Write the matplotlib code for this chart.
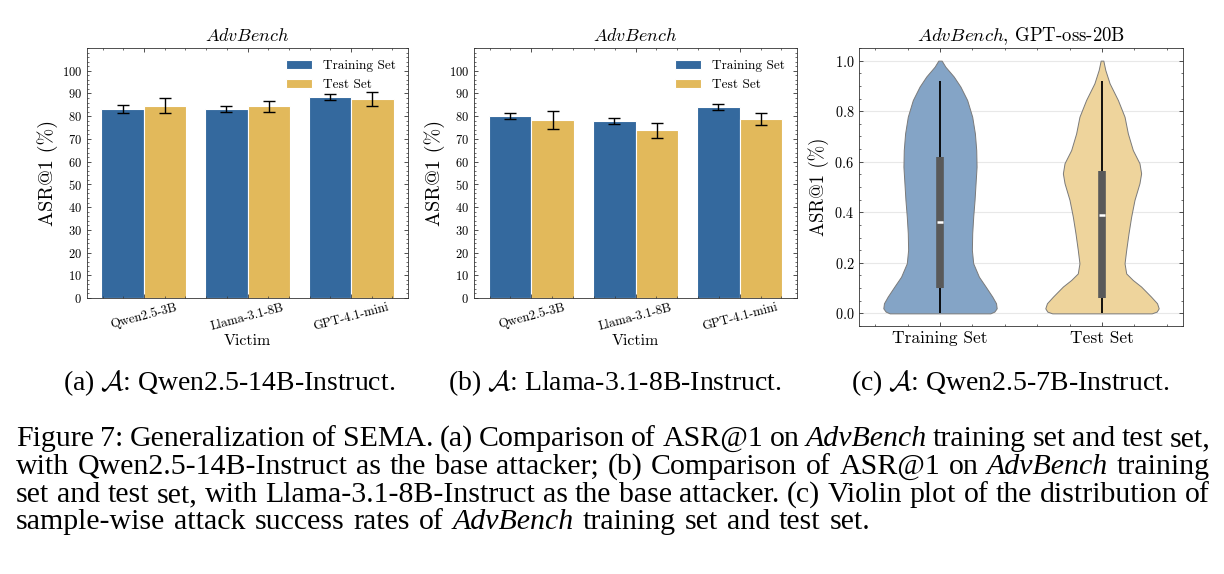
import numpy as np
import matplotlib
matplotlib.use("Agg")
import matplotlib.pyplot as plt
from matplotlib.ticker import MultipleLocator, AutoMinorLocator, FixedLocator

# ---------------- data ----------------
victims = ["Qwen2.5-3B", "Llama-3.1-8B", "GPT-4.1-mini"]
series_names = ["Training Set", "Test Set"]

# (a) attacker Qwen2.5-14B-Instruct
a_train = [83.2, 83.2, 88.3]
a_train_err = [1.8, 1.5, 1.3]
a_test = [84.6, 84.3, 87.7]
a_test_err = [3.3, 2.6, 3.0]

# (b) attacker Llama-3.1-8B-Instruct
b_train = [80.1, 77.9, 84.2]
b_train_err = [1.5, 1.25, 1.3]
b_test = [78.3, 73.9, 78.6]
b_test_err = [3.9, 3.3, 2.6]

bar_yticks = list(range(0, 101, 10))

# (c) violin density profiles (value, relative density)
train_coords = [0.0, 0.007, 0.02, 0.04, 0.066, 0.106, 0.145, 0.198, 0.251, 0.317,
                0.383, 0.449, 0.515, 0.580, 0.646, 0.712, 0.778, 0.844, 0.897,
                0.937, 0.976, 1.0]
train_density = [150, 162, 169, 167, 156, 136, 116, 99, 95, 96,
                 99, 103, 106, 109, 108, 104, 96, 81, 61,
                 41, 16, 5]
test_coords = [0.0, 0.007, 0.02, 0.04, 0.066, 0.106, 0.132, 0.158, 0.198, 0.251,
               0.317, 0.383, 0.449, 0.515, 0.554, 0.594, 0.646, 0.712, 0.778,
               0.844, 0.910, 0.963, 1.0]
test_density = [150, 165, 171, 166, 148, 118, 93, 73, 68, 73,
                80, 88, 98, 113, 118, 113, 93, 78, 68,
                48, 23, 10, 4]
# box stats: whisker low, q1, median, q3, whisker high
train_box = [0.0, 0.10, 0.36, 0.62, 0.92]
test_box = [0.0, 0.06, 0.39, 0.565, 0.92]
violin_yticks = [0.0, 0.2, 0.4, 0.6, 0.8, 1.0]

# ---------------- style ----------------
plt.rcParams['font.family'] = ['cmr10', 'DejaVu Serif']
plt.rcParams['mathtext.fontset'] = 'cm'
plt.rcParams['axes.formatter.use_mathtext'] = True
plt.rcParams['axes.linewidth'] = 0.6
plt.rcParams['axes.edgecolor'] = '#333333'
for ax_ in ('xtick', 'ytick'):
    plt.rcParams[f'{ax_}.direction'] = 'in'
    plt.rcParams[f'{ax_}.major.size'] = 3
    plt.rcParams[f'{ax_}.minor.size'] = 1.5
    plt.rcParams[f'{ax_}.major.width'] = 0.6
    plt.rcParams[f'{ax_}.minor.width'] = 0.5
    plt.rcParams[f'{ax_}.color'] = '#333333'
    plt.rcParams[f'{ax_}.labelcolor'] = 'black'
plt.rcParams['xtick.top'] = True
plt.rcParams['ytick.right'] = True

BLUE = '#34699E'
GOLD = '#E2B95B'
BLUE_L = '#84A4C6'
GOLD_L = '#EED49C'

W, H = 1224, 574
fig = plt.figure(figsize=(W / 100, H / 100), dpi=100)


def px_rect(l, t, r, b):
    return [l / W, 1 - b / H, (r - l) / W, (b - t) / H]


def bar_panel(rect, train, train_err, test, test_err):
    ax = fig.add_axes(rect)
    x = np.arange(len(victims))
    w = 0.41
    ekw = dict(elinewidth=1.0, capthick=1.0, ecolor='black')
    ax.bar(x - w / 2, train, w, yerr=train_err, color=BLUE, edgecolor='white',
           linewidth=0.8, capsize=4.5, error_kw=ekw, label=series_names[0])
    ax.bar(x + w / 2, test, w, yerr=test_err, color=GOLD, edgecolor='white',
           linewidth=0.8, capsize=4.5, error_kw=ekw, label=series_names[1])
    ax.set_xlim(-0.55, len(victims) - 0.45)
    ax.set_ylim(0, 110)
    ax.set_yticks(bar_yticks)
    ax.yaxis.set_minor_locator(AutoMinorLocator(5))
    ax.xaxis.set_major_locator(FixedLocator(x))
    ax.xaxis.set_minor_locator(MultipleLocator(0.2))
    ax.set_xticklabels(victims, rotation=15, ha='center', fontsize=9.3)
    ax.tick_params(axis='x', pad=2.5)
    ax.tick_params(axis='y', labelsize=9)
    ax.set_xlabel('Victim', fontsize=11.5, labelpad=1)
    ax.set_ylabel('ASR@1 (%)', fontsize=14.5, labelpad=3)
    ax.set_title(r'$\mathit{AdvBench}$', fontsize=13, pad=5)
    ax.legend(loc='upper right', frameon=False, fontsize=9.6)
    return ax


bar_panel(px_rect(87, 48, 408, 298), a_train, a_train_err, a_test, a_test_err)
bar_panel(px_rect(474, 48, 797, 298), b_train, b_train_err, b_test, b_test_err)

# violin panel
axc = fig.add_axes(px_rect(859, 48, 1183, 326))
stats = []
for coords, dens, box in ((train_coords, train_density, train_box),
                          (test_coords, test_density, test_box)):
    stats.append(dict(coords=np.array(coords), vals=np.array(dens, float),
                      mean=box[2], median=box[2], min=box[0], max=box[4]))
positions = [0, 1]
parts = axc.violin(stats, positions=positions, widths=0.7, showmeans=False,
                   showextrema=False, showmedians=False)
for body, col in zip(parts['bodies'], (BLUE_L, GOLD_L)):
    body.set_facecolor(col)
    body.set_edgecolor('#7a7a7a')
    body.set_linewidth(0.7)
    body.set_alpha(1)
    body.set_zorder(2)
for pos, box in zip(positions, (train_box, test_box)):
    axc.vlines(pos, box[0], box[4], color='black', lw=1.3, zorder=3)
    axc.vlines(pos, box[1], box[3], color='#595959', lw=5.5, zorder=4)
    axc.hlines(box[2], pos - 0.02, pos + 0.02, color='white', lw=1.8, zorder=5)
axc.set_xlim(-0.5, 1.5)
axc.set_ylim(-0.05, 1.05)
axc.set_yticks(violin_yticks)
axc.yaxis.set_minor_locator(AutoMinorLocator(4))
axc.xaxis.set_major_locator(FixedLocator(positions))
axc.xaxis.set_minor_locator(MultipleLocator(0.2))
axc.set_xticklabels(series_names, fontsize=12.5)
axc.tick_params(axis='y', labelsize=10.3)
axc.yaxis.grid(True, color='#e8e8e8', lw=0.8)
axc.set_axisbelow(True)
axc.set_ylabel('ASR@1 (%)', fontsize=13.5, labelpad=4)
axc.set_title(r'$\mathit{AdvBench}$, GPT-oss-20B', fontsize=13.5, pad=5)

# ---------------- captions ----------------
CAP = 'Liberation Serif'
sub_caps = [(229, r'(a) $\mathcal{A}$: Qwen2.5-14B-Instruct.'),
            (615, r'(b) $\mathcal{A}$: Llama-3.1-8B-Instruct.'),
            (1010, r'(c) $\mathcal{A}$: Qwen2.5-7B-Instruct.')]
for xc, s in sub_caps:
    fig.text(xc / W, 1 - 390 / H, s, ha='center', va='baseline', fontsize=20,
             family=CAP)

cap_lines = [
    ("Figure 7: Generalization of SEMA. (a) Comparison of ASR@1 on |AdvBench| training set and test set,", True),
    ("with Qwen2.5-14B-Instruct as the base attacker; (b) Comparison of ASR@1 on |AdvBench| training", True),
    ("set and test set, with Llama-3.1-8B-Instruct as the base attacker. (c) Violin plot of the distribution of", True),
    ("sample-wise attack success rates of |AdvBench| training set and test set.", False),
]
cap_baselines = [446, 474, 502, 529]
CAP_SIZE = 21.5
X0, X1 = 16, 1210

renderer = fig.canvas.get_renderer()
space_px = CAP_SIZE * 0.25 * 100 / 72
for (line, justify), yb in zip(cap_lines, cap_baselines):
    words = line.split(' ')
    texts = []
    for wd in words:
        italic = wd.startswith('|')
        wd = wd.replace('|', '')
        t = fig.text(0, 1 - yb / H, wd, fontsize=CAP_SIZE, family=CAP,
                     style='italic' if italic else 'normal', va='baseline', ha='left')
        texts.append(t)
    widths = [t.get_window_extent(renderer).width for t in texts]
    if justify:
        gap = max((X1 - X0 - sum(widths)) / (len(words) - 1), 0.5 * space_px)
    else:
        gap = space_px * 1.2
    xpos = X0
    for t, wd in zip(texts, widths):
        t.set_x(xpos / W)
        xpos += wd + gap

fig.savefig('out.png', dpi=100)
